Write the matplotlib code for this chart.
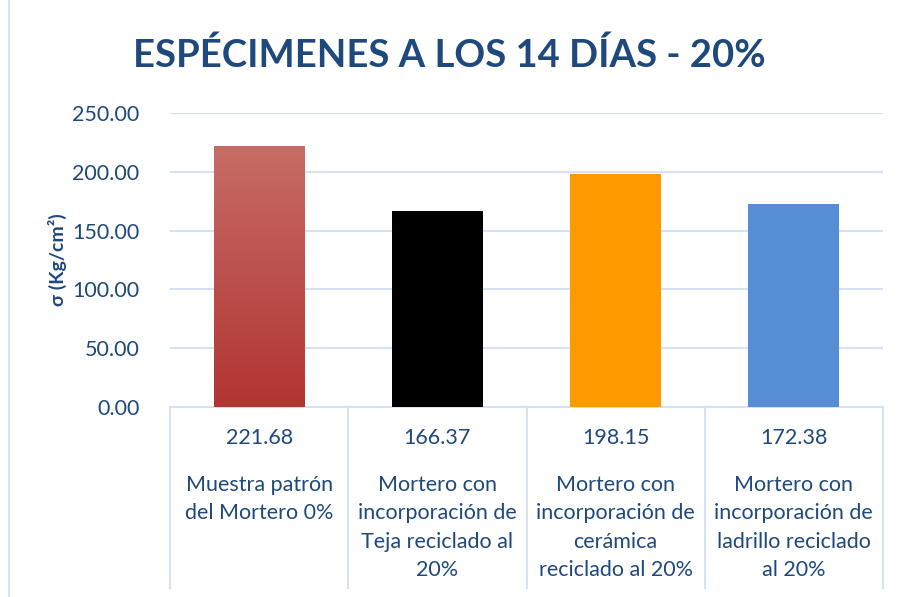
import numpy as np
import matplotlib
matplotlib.use("Agg")
import matplotlib.pyplot as plt
from matplotlib.lines import Line2D
from matplotlib.colors import LinearSegmentedColormap

plt.rcParams['font.family'] = ['Lato', 'DejaVu Sans']

values = [221.68, 166.37, 198.15, 172.38]
labels = [
    "Muestra patrón\ndel Mortero 0%",
    "Mortero con\nincorporación de\nTeja reciclado al\n20%",
    "Mortero con\nincorporación de\ncerámica\nreciclado al 20%",
    "Mortero con\nincorporación de\nladrillo reciclado\nal 20%",
]
colors = ["#C0504D", "#000000", "#FF9900", "#558ED5"]
yticks = [0, 50, 100, 150, 200, 250]

navy = "#1F497D"
gridc = "#D6E1F1"

fig = plt.figure(figsize=(8.98, 5.97), dpi=100)
ax = fig.add_axes([170/898, 190/597, 713/898, 294/597])

x = np.arange(len(values))
bars = ax.bar(x, values, width=0.51, color=colors, zorder=3)

# gradient on the first bar
b0 = bars[0]
cmap = LinearSegmentedColormap.from_list("red", ["#B13532", "#C76C66"])
grad = np.linspace(0, 1, 256).reshape(-1, 1)
bx, by = b0.get_x(), b0.get_y()
im = ax.imshow(grad, cmap=cmap, origin="lower", aspect="auto",
               extent=[bx, bx + b0.get_width(), by, by + b0.get_height()], zorder=4)
im.set_clip_path(b0)
ax.set_xlim(-0.5, len(values) - 0.5)
ax.set_ylim(0, 250)

ax.set_yticks(yticks)
ax.set_yticklabels([f"{v:.2f}" for v in yticks], color=navy, fontsize=15.5)
ax.tick_params(axis="y", length=0, pad=22)
ax.set_xticks([])
ax.grid(axis="y", color=gridc, linewidth=1.5, zorder=0)
for s in ax.spines.values():
    s.set_visible(False)

ax.set_ylabel("σ (Kg/cm²)", color=navy, fontsize=14, fontweight="bold", labelpad=4)

# data table below the plot
tr = ax.get_xaxis_transform()
table_bottom = -181 / 294
ax.add_line(Line2D([-0.5, len(values) - 0.5], [0, 0], transform=tr,
                   color=gridc, linewidth=1.5, clip_on=False))
for b in np.arange(len(values) + 1) - 0.5:
    ax.add_line(Line2D([b, b], [0, table_bottom], transform=tr,
                       color=gridc, linewidth=1.5, clip_on=False))
for i, (v, lab) in enumerate(zip(values, labels)):
    ax.text(i, -31 / 294, f"{v:.2f}", transform=tr, ha="center", va="center",
            color=navy, fontsize=15.5)
    ax.text(i, -68 / 294, lab, transform=tr, ha="center", va="top",
            color=navy, fontsize=15.5, linespacing=1.52)

fig.add_artist(Line2D([9/898, 9/898], [0, 1], color=gridc, linewidth=1.5))

fig.text(0.5, 1 - 55/597, "ESPÉCIMENES A LOS 14 DÍAS - 20%", ha="center", va="center",
         color=navy, fontsize=27.5, fontweight="bold")

fig.savefig("out.png", dpi=100)
